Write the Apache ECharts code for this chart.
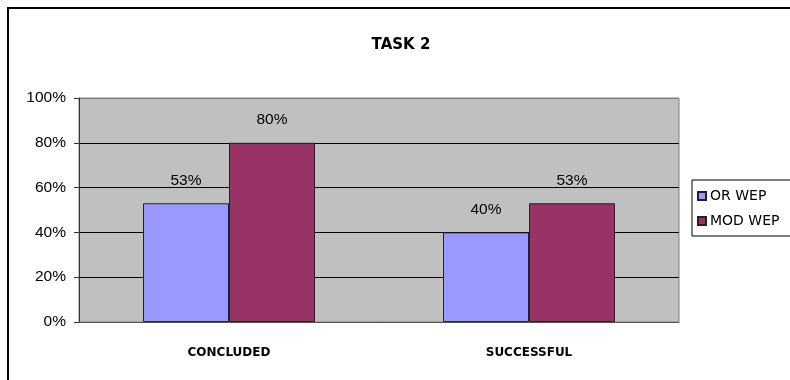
<!DOCTYPE html>
<html>
<head>
<meta charset="utf-8">
<script src="https://cdn.jsdelivr.net/npm/echarts@6/dist/echarts.min.js"></script>
<style>
  html, body { margin: 0; padding: 0; background: #fff; }
  #chart { width: 790px; height: 380px; }
</style>
</head>
<body>
<div id="chart"></div>
<script>
// Task 2 outcome shares per method
const categories = ['CONCLUDED', 'SUCCESSFUL'];
const orWep = [53, 40];
const modWep = [80, 53];
const yTicks = [0, 20, 40, 60, 80, 100];

const comic = '"Comic Sans MS", "DejaVu Sans", sans-serif';
const arial = 'Arial, "Liberation Sans", sans-serif';
const chart = echarts.init(document.getElementById('chart'), null, { renderer: 'canvas' });

const barLabel = {
  show: true,
  position: 'top',
  distance: 15,
  color: '#000',
  fontFamily: arial,
  fontSize: 15.5,
  formatter: p => p.value + '%'
};

chart.setOption({
  animation: false,
  backgroundColor: '#fff',
  title: {
    text: 'TASK 2',
    left: 396,
    textAlign: 'center',
    top: 33,
    textStyle: { fontFamily: comic, fontWeight: 'bold', fontSize: 15, color: '#000' }
  },
  graphic: [{
    type: 'rect',
    shape: { x: 8, y: 8, width: 800, height: 400 },
    style: { fill: 'none', stroke: '#000', lineWidth: 2 },
    z: 100
  }],
  grid: {
    left: 79, right: 111, top: 98, bottom: 58,
    show: true,
    backgroundColor: '#C0C0C0',
    borderColor: '#808080',
    borderWidth: 1
  },
  legend: {
    orient: 'vertical',
    left: 692,
    top: 180,
    itemWidth: 8,
    itemHeight: 8,
    itemGap: 11,
    padding: [9, 40, 8, 5],
    borderColor: '#000',
    borderWidth: 1,
    icon: 'rect',
    textStyle: { fontFamily: comic, fontSize: 14, color: '#000', padding: [0, 0, 0, -1] },
    data: ['OR WEP', 'MOD WEP']
  },
  xAxis: {
    type: 'category',
    data: categories,
    axisLine: { lineStyle: { color: '#555', width: 1 } },
    axisTick: { show: false },
    axisLabel: {
      fontFamily: comic, fontWeight: 'bold', fontSize: 12, color: '#000', margin: 25
    }
  },
  yAxis: {
    type: 'value',
    min: 0, max: 100, interval: 20,
    axisLine: { show: true, lineStyle: { color: '#333', width: 1 } },
    axisTick: { show: true, length: 5, lineStyle: { color: '#333' } },
    axisLabel: {
      fontFamily: arial,
      fontSize: 15.5, color: '#000', margin: 13,
      formatter: v => yTicks.includes(v) ? v + '%' : ''
    },
    splitLine: {
      lineStyle: { color: ['#000', '#000', '#000', '#000', '#000', '#808080'], width: 1 }
    }
  },
  series: [
    {
      name: 'OR WEP',
      type: 'bar',
      data: orWep,
      barWidth: 86,
      barGap: '0%',
      itemStyle: { color: '#9999FF', borderColor: '#222', borderWidth: 1 },
      label: barLabel
    },
    {
      name: 'MOD WEP',
      type: 'bar',
      data: modWep,
      barWidth: 86,
      barGap: '0%',
      itemStyle: { color: '#993366', borderColor: '#222', borderWidth: 1 },
      label: barLabel
    }
  ]
});
</script>
</body>
</html>
